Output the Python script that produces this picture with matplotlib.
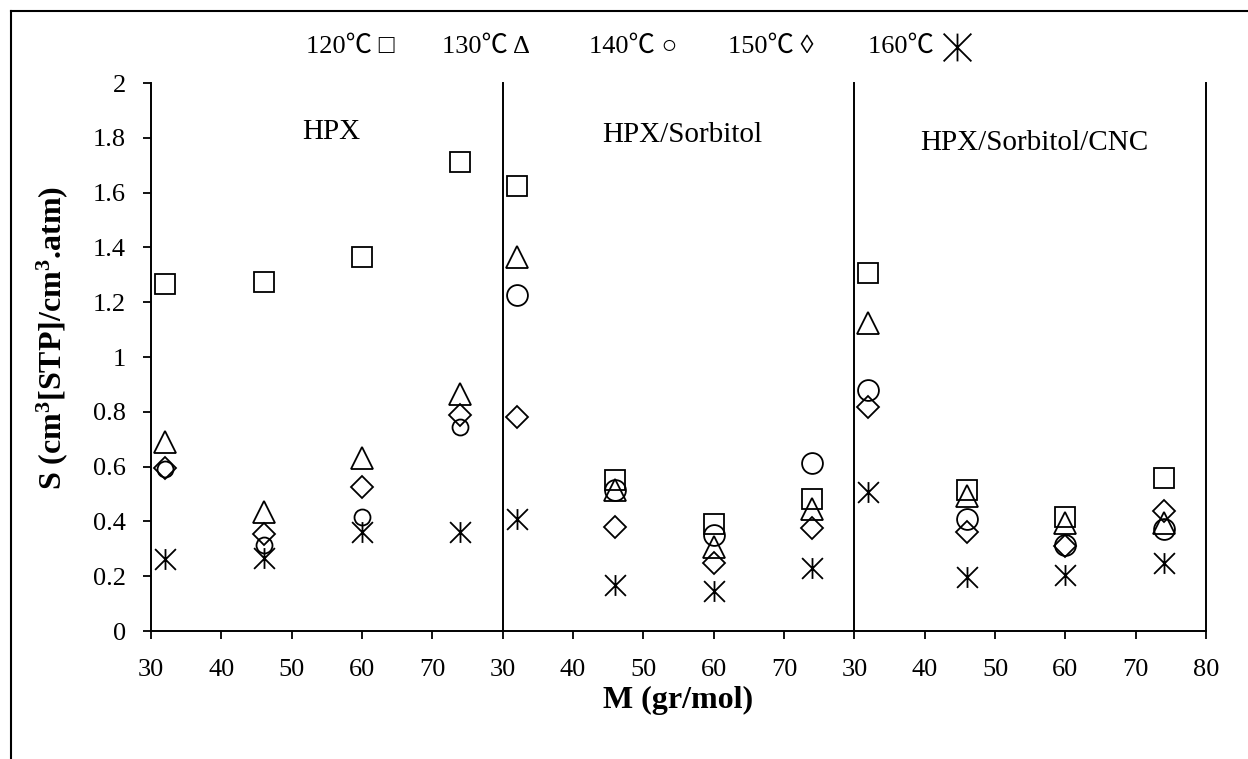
import matplotlib
matplotlib.use('Agg')
import matplotlib.pyplot as plt
from matplotlib.lines import Line2D
from matplotlib.path import Path
from matplotlib.ticker import FuncFormatter

plt.rcParams['font.family'] = ['Liberation Serif', 'Noto Sans CJK SC', 'DejaVu Sans']
plt.rcParams['mathtext.fontset'] = 'custom'
plt.rcParams['mathtext.rm'] = 'Liberation Serif'
plt.rcParams['mathtext.bf'] = 'Liberation Serif:bold'

# molar mass of the penetrants (alcohol series)
M = [32, 46, 60, 74]
temps = ['120℃', '130℃', '140℃', '150℃', '160℃']
legend_glyphs = ['□', 'Δ', '○', '◊', '']
films = ['HPX', 'HPX/Sorbitol', 'HPX/Sorbitol/CNC']

# solubility S, one row per temperature (120 .. 160 ℃)
s_hpx = [
    [1.265, 1.273, 1.366, 1.713],
    [0.69, 0.435, 0.632, 0.865],
    [0.59, 0.314, 0.415, 0.743],
    [0.595, 0.354, 0.524, 0.788],
    [0.262, 0.265, 0.362, 0.362],
]
s_hpx_sorb = [
    [1.624, 0.551, 0.39, 0.483],
    [1.364, 0.515, 0.308, 0.446],
    [1.226, 0.515, 0.35, 0.614],
    [0.782, 0.381, 0.247, 0.375],
    [0.408, 0.168, 0.147, 0.229],
]
s_hpx_sorb_cnc = [
    [1.308, 0.515, 0.417, 0.56],
    [1.123, 0.493, 0.393, 0.393],
    [0.88, 0.408, 0.314, 0.371],
    [0.816, 0.362, 0.31, 0.439],
    [0.508, 0.198, 0.204, 0.249],
]
all_data = [s_hpx, s_hpx_sorb, s_hpx_sorb_cnc]

# asterisk made of a vertical bar and an X
star = Path([(0, -1), (0, 1), (-1, -1), (1, 1), (-1, 1), (1, -1)],
            [Path.MOVETO, Path.LINETO] * 3)
markers = ['s', '^', 'o', 'D', star]
msizes = [14.5, 15.5, 15.0, 10.8, 15.0]
title_y = [1.82, 1.81, 1.78]

W, H = 1248, 759
fig = plt.figure(figsize=(W / 100, H / 100), dpi=100)

x0, x1 = 151, 1206
y_top, y_bot = 83, 631
pw = (x1 - x0) / 3
axes = []
for i in range(3):
    ax = fig.add_axes([(x0 + i * pw) / W, 1 - y_bot / H, pw / W, (y_bot - y_top) / H])
    axes.append(ax)

for i, (ax, data, name) in enumerate(zip(axes, all_data, films)):
    for k, row in enumerate(data):
        ms = msizes[k]
        if k == 2 and i == 0:
            ms = 11.5
        ax.plot(M, row, linestyle='none', marker=markers[k], markersize=ms,
                markerfacecolor='none', markeredgecolor='black', markeredgewidth=1.3,
                clip_on=False)
    ax.set_xlim(30, 80)
    ax.set_ylim(0, 2)
    ax.spines['top'].set_visible(False)
    ax.spines['right'].set_visible(i == 2)
    for sp in ax.spines.values():
        sp.set_linewidth(1.4)
    ax.set_xticks([30, 40, 50, 60, 70, 80] if i == 2 else [30, 40, 50, 60, 70])
    ax.tick_params(axis='x', direction='out', length=6, width=1.3, labelsize=19, pad=14)
    if i == 0:
        ax.set_yticks([0, 0.2, 0.4, 0.6, 0.8, 1, 1.2, 1.4, 1.6, 1.8, 2])
        ax.yaxis.set_major_formatter(FuncFormatter(lambda v, p: '%g' % v))
        ax.tick_params(axis='y', direction='out', length=6, width=1.3, labelsize=19, pad=12)
    else:
        ax.tick_params(axis='y', left=False, labelleft=False)
    ax.text(55.6, title_y[i], name, ha='center', va='center', fontsize=21)

fig.text(52 / W, 1 - 338 / H, 'S (cm$\\mathbf{^3}$[STP]/cm$\\mathbf{^3}$.atm)', rotation=90,
         ha='center', va='center', fontsize=23, fontweight='bold')
fig.text(678 / W, 1 - 700 / H, 'M (gr/mol)', ha='center', va='center',
         fontsize=23, fontweight='bold')

# legend row drawn as text, with the asterisk as a marker
leg_x = [306, 442, 589, 728, 868]
for lx, t, g in zip(leg_x, temps, legend_glyphs):
    fig.text(lx / W, 1 - 47 / H, t + ' ' + g, ha='left', va='center', fontsize=19)
fig.add_artist(Line2D([957 / W], [1 - 47 / H], marker=star, markersize=20,
                      markeredgecolor='black', markeredgewidth=1.3,
                      linestyle='none', transform=fig.transFigure))

# outer frame (left and top edges)
fig.add_artist(Line2D([11 / W, 11 / W], [0, 1 - 11 / H], color='black', lw=1.5,
                      transform=fig.transFigure))
fig.add_artist(Line2D([11 / W, 1], [1 - 11 / H, 1 - 11 / H], color='black', lw=1.5,
                      transform=fig.transFigure))

fig.savefig('out.png', dpi=100)
